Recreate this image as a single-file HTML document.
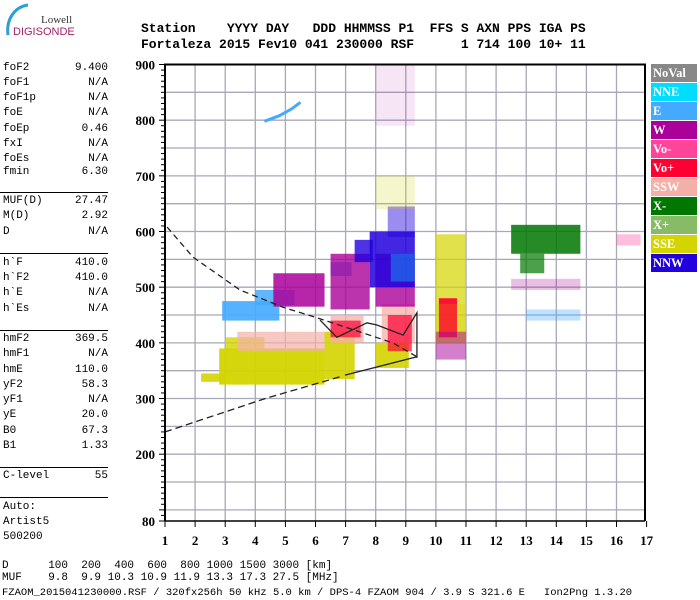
<!DOCTYPE html>
<html><head><meta charset="utf-8"><style>
body{margin:0;background:#fff;width:700px;height:600px;overflow:hidden;position:relative;font-family:"Liberation Mono",monospace}
.t{position:absolute;white-space:pre;font-size:11px;color:#000;line-height:12px}
.hd{position:absolute;white-space:pre;font-family:"Liberation Mono",monospace;font-weight:bold;font-size:13px;left:141px}
.hr{position:absolute;left:0;width:108px;height:1px;background:#000}
.lg{position:absolute;left:651px;width:46px;height:18px;color:#fff;font-family:"Liberation Serif",serif;font-weight:bold;font-size:12.5px;line-height:18px;padding-left:2px;box-sizing:border-box}
</style></head><body>
<svg style="position:absolute;left:0;top:0" width="90" height="40">
<path d="M8,35 C6,20 14,7 28,5" stroke="#2a9fd8" stroke-width="3" fill="none"/>
<text x="41" y="23" font-family="Liberation Serif,serif" font-size="11" fill="#333">Lowell</text>
<text x="13" y="35" font-family="Liberation Sans,sans-serif" font-size="11" fill="#a0206a">DIGISONDE</text>
</svg>
<div class="hd" style="top:21px">Station    YYYY DAY   DDD HHMMSS P1  FFS S AXN PPS IGA PS</div>
<div class="hd" style="top:37px">Fortaleza 2015 Fev10 041 230000 RSF      1 714 100 10+ 11</div>

<div id="params"></div>

<div class="lg" style="top:64px;background:#888">NoVal</div>
<div class="lg" style="top:83px;background:#00ddff">NNE</div>
<div class="lg" style="top:102px;background:#44aaff">E</div>
<div class="lg" style="top:121px;background:#aa0099">W</div>
<div class="lg" style="top:140px;background:#ff4499">Vo-</div>
<div class="lg" style="top:159px;background:#ff0033">Vo+</div>
<div class="lg" style="top:178px;background:#f4b0a8">SSW</div>
<div class="lg" style="top:197px;background:#007700">X-</div>
<div class="lg" style="top:216px;background:#88bb66">X+</div>
<div class="lg" style="top:235px;background:#d4d400">SSE</div>
<div class="lg" style="top:254px;background:#2200dd">NNW</div>

<svg id="chart" style="position:absolute;left:0;top:0" width="700" height="600"></svg>

<div class="t" style="left:2px;top:560px">D      100  200  400  600  800 1000 1500 3000 [km]</div>
<div class="t" style="left:2px;top:572px">MUF    9.8  9.9 10.3 10.9 11.9 13.3 17.3 27.5 [MHz]</div>
<div class="t" style="left:2px;top:587px;font-size:10.5px">FZAOM_2015041230000.RSF / 320fx256h 50 kHz 5.0 km / DPS-4 FZAOM 904 / 3.9 S 321.6 E   Ion2Png 1.3.20</div>

<script>
// parameter panel
const paramNames=["foF2","foF1","foF1p","foE","foEp","fxI","foEs","fmin","MUF(D)","M(D)","D","h`F","h`F2","h`E","h`Es","hmF2","hmF1","hmE","yF2","yF1","yE","B0","B1","C-level"];
const paramVals=["9.400","N/A","N/A","N/A","0.46","N/A","N/A","6.30","27.47","2.92","N/A","410.0","410.0","N/A","N/A","369.5","N/A","110.0","58.3","N/A","20.0","67.3","1.33","55"];
const paramTops=[62,77,92,107,123,138,153,166,195,210,226,257,272,287,303,333,348,364,379,394,409,425,440,470];
const P=document.getElementById('params');
for(let i=0;i<paramNames.length;i++){
  const a=document.createElement('div');a.className='t';a.style.left='3px';a.style.top=paramTops[i]+'px';a.textContent=paramNames[i];
  
  
  P.appendChild(a);
  const b=document.createElement('div');b.className='t';b.style.right=(700-108)+'px';b.style.top=paramTops[i]+'px';b.textContent=paramVals[i];
  
  
  P.appendChild(b);
}
[192,253,330,467,497].forEach(y=>{const l=document.createElement('div');l.className='hr';l.style.top=y+'px';
  
  
  P.appendChild(l);});
["Auto:","Artist5","500200"].forEach((s,i)=>{const a=document.createElement('div');a.className='t';a.style.left='3px';a.style.top=(501+i*15)+'px';a.textContent=s;
  
  
  P.appendChild(a);});

// chart data
const xTicks=[1,2,3,4,5,6,7,8,9,10,11,12,13,14,15,16,17];
const yTicks=[900,800,700,600,500,400,300,200,80];
const blobColor=["#d4d400","#d4d400","#d4d400","#d4d400","#d4d400","#d4d400","#f4b0a8","#f4b0a8","#f4b0a8","#ff0033","#ff0033","#ff0033","#d4d400","#ff0033","#aa0099","#44aaff","#44aaff","#44aaff","#aa0099","#aa0099","#aa0099","#2200dd","#2200dd","#2200dd","#00ddff","#007700","#007700","#44aaff","#aa0099","#ff4499","#aa0099","#d4d400"];
const blobF0=[2.2,2.8,3.0,6.3,8.0,10.0,3.4,6.5,8.2,6.5,8.4,10.1,10.0,10.1,10.0,2.9,4.0,6.5,4.6,6.5,8.0,7.8,7.3,8.4,8.5,12.5,12.8,13.0,12.5,16.0,8.0,8.0];
const blobF1=[3.0,6.3,4.3,7.3,9.1,11.0,6.3,7.6,9.3,7.5,9.2,10.7,11.0,10.7,11.0,4.8,5.3,7.2,6.3,7.8,9.3,9.3,7.9,9.3,9.3,14.8,13.6,14.8,14.8,16.8,9.3,9.3];
const blobH0=[330,325,385,335,355,470,385,400,400,410,385,410,400,410,370,440,468,520,465,460,465,500,545,590,510,560,525,440,495,575,790,640];
const blobH1=[345,390,410,420,400,595,420,450,470,440,450,480,470,480,420,475,495,545,525,560,560,600,585,645,560,612,560,460,515,595,900,700];
const blobAlpha=[0.9,0.95,0.8,0.9,0.9,0.7,0.7,0.75,0.75,0.7,0.7,0.7,0.8,0.75,0.5,0.9,0.85,0.8,0.85,0.8,0.8,0.85,0.8,0.45,0.35,0.85,0.7,0.35,0.25,0.35,0.1,0.2];
const arcF=[4.3,4.8,5.2,5.5];
const arcH=[798,808,820,832];
const upperF=[1.07,1.93,3.49,4.92,6.05,8.57,9.37];
const upperH=[608,554,495,464,445,400,375];
const lowerF=[1.0,4.39,6.81];
const lowerH=[240,301,339];
const lowerSolidF=[6.98,9.37];
const lowerSolidH=[342,375];
const profF=[6.15,6.71,7.71,8.04,8.91,9.37,9.37];
const profH=[441,410,436,432,414,454,373];

const X=f=>165+(f-1)*30.1;
const Y=h=>64.5+(900-h)*0.5567;
const svg=document.getElementById('chart');
const NS='http://www.w3.org/2000/svg';
function el(t,a){const e=document.createElementNS(NS,t);for(const k in a)e.setAttribute(k,a[k]);svg.appendChild(e);return e;}

// grid
for(let h=100;h<=900;h+=50){const g=el('line',{x1:165,x2:645,y1:Y(h),y2:Y(h),stroke:'#a8a8b8','stroke-width':1.3});
  
  }
for(let f=2;f<=16;f++){const g=el('line',{x1:X(f),x2:X(f),y1:Y(900),y2:Y(80),stroke:'#a8a8b8','stroke-width':1.3});
  
  }

// blobs
for(let i=0;i<blobColor.length;i++){
  const r=el('rect',{x:X(blobF0[i]),y:Y(blobH1[i]),width:X(blobF1[i])-X(blobF0[i]),height:Y(blobH0[i])-Y(blobH1[i]),fill:blobColor[i],'fill-opacity':blobAlpha[i]});
  
  
}
const arc=el('polyline',{points:arcF.map((f,i)=>X(f)+','+Y(arcH[i])).join(' '),stroke:'#44aaff','stroke-width':3,fill:'none'});



// curves
const c1=el('polyline',{points:upperF.map((f,i)=>X(f)+','+Y(upperH[i])).join(' '),stroke:'#222','stroke-width':1.3,'stroke-dasharray':'6,4',fill:'none'});


const c2=el('polyline',{points:lowerF.map((f,i)=>X(f)+','+Y(lowerH[i])).join(' '),stroke:'#222','stroke-width':1.3,'stroke-dasharray':'7,4',fill:'none'});


const c3=el('polyline',{points:lowerSolidF.map((f,i)=>X(f)+','+Y(lowerSolidH[i])).join(' '),stroke:'#222','stroke-width':1.3,fill:'none'});


const c4=el('polyline',{points:profF.map((f,i)=>X(f)+','+Y(profH[i])).join(' '),stroke:'#222','stroke-width':1.3,fill:'none'});



// frame & axes
const fr=el('path',{d:`M165,${Y(80)} L165,${Y(900)} L645,${Y(900)} L645,${Y(80)}`,stroke:'#000','stroke-width':2,fill:'none'});


const xa=el('line',{x1:165,x2:645,y1:Y(80),y2:Y(80),stroke:'#000','stroke-width':1.5});


for(let h=80;h<=900;h+=10){const t=el('line',{x1:h%100===0||h===80?159:161,x2:165,y1:Y(h),y2:Y(h),stroke:'#000','stroke-width':1});
  
  }
yTicks.forEach(h=>{const t=el('text',{x:155,y:Y(h)+5,'text-anchor':'end','font-family':'Liberation Serif,serif','font-weight':'bold','font-size':13});t.textContent=h;
  
  });
xTicks.forEach(f=>{const t=el('line',{x1:X(f),x2:X(f),y1:Y(80),y2:Y(80)+6,stroke:'#000','stroke-width':1});
  
  
  const l=el('text',{x:X(f),y:545,'text-anchor':'middle','font-family':'Liberation Serif,serif','font-weight':'bold','font-size':13});l.textContent=f;
  
  });
</script>
</body></html>
